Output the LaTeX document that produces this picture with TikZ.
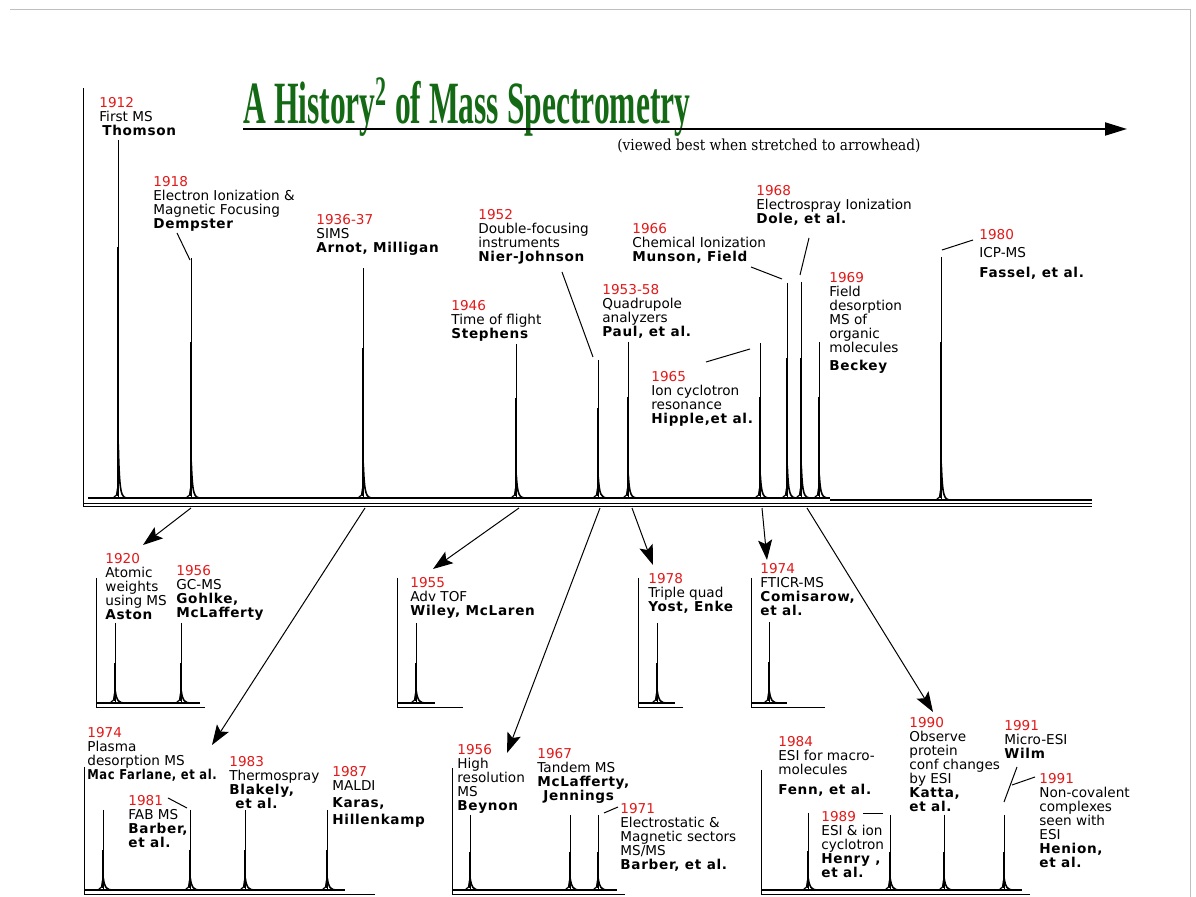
\documentclass[tikz,border=0pt]{standalone}
\usepackage{fontspec}
\usepackage{graphicx}
\usetikzlibrary{arrows.meta}
\newfontfamily\lf{DejaVu Sans}[BoldFeatures={LetterSpace=5}]
\newfontfamily\ttlfont{Liberation Serif}
\newfontfamily\subfont{DejaVu Serif}
\definecolor{yrred}{RGB}{225,25,25}
\definecolor{ttlgreen}{RGB}{20,105,20}
\newcommand\Yr[1]{\textcolor{yrred}{#1}}
% peak: x, top, base, fraction of thin part
\newcommand\Pk[4]{%
  \draw[line width=0.5pt] (#1,#2) -- (#1,#3);
  \draw[line width=1.4pt] (#1,{#2+#4*(#3-#2)}) -- (#1,{#3-2});
  \draw[line width=0.6pt] (#1-5,#3) -- (#1-1.5,{#3-3}) -- (#1-0.5,{#3-10});
  \draw[line width=0.8pt] (#1+0.3,{#3-0.15*(#3-#2)}) .. controls (#1+1.5,{#3-3}) and (#1+3,#3) .. (#1+10,#3);
}
\begin{document}
\begin{tikzpicture}[x=0.5pt,y=-0.5pt,
  lbl/.style={anchor=north west, inner sep=0pt, align=left, font=\lf\fontsize{6.8}{7}\selectfont},
  axisln/.style={line width=0.5pt},
  conn/.style={line width=0.5pt, -{Stealth[length=10pt,width=7pt,inset=2pt]}},
  leader/.style={line width=0.5pt}]
\useasboundingbox (0,0) rectangle (1196,897);
\draw[gray!50, line width=0.5pt] (10,10) -- (1190,10) -- (1190,897);

% ---------- title ----------
\node[anchor=base west, inner sep=0pt, text=ttlgreen, font=\ttlfont\bfseries\fontsize{30}{30}\selectfont] (title) at (243,124)
  {\resizebox{223.5pt}{\height}{A History\textsuperscript{2} of Mass Spectrometry}};
\coordinate (ts) at (243,129);
\coordinate (te) at (1127,129);
\draw[line width=1pt, -{Triangle[length=11pt,width=6.5pt]}] (ts) -- (te);
\node[anchor=base west, inner sep=0pt, font=\subfont\fontsize{7.6}{7.6}\selectfont] (sub) at (617,151)
  {\resizebox{151.5pt}{\height}{(viewed best when stretched to arrowhead)}};

% ---------- main spectrum ----------
\draw[axisln] (83,88) -- (83,507);
\draw[axisln] (83,503.5) -- (1092,503.5);
\draw[axisln] (83,507) -- (1092,507);
\draw[line width=0.8pt] (88,498) -- (830,498);
\draw[line width=0.8pt] (830,500) -- (1092,500);
\Pk{118}{140}{498}{0.3}
\Pk{191}{258}{498}{0.35}
\Pk{363}{268}{498}{0.35}
\Pk{516}{344}{498}{0.35}
\Pk{598}{360}{498}{0.35}
\Pk{628}{342}{498}{0.35}
\Pk{760}{343}{498}{0.35}
\Pk{787}{283}{498}{0.35}
\Pk{801}{282}{498}{0.35}
\Pk{819}{342}{498}{0.35}
\Pk{941}{257}{500}{0.35}

\node[lbl] (l1912) at (99,97) {\Yr{1912}\\First MS\\\hspace*{1.5pt}\textbf{Thomson}};
\node[lbl] (l1918) at (153,176) {\Yr{1918}\\Electron Ionization \&\\Magnetic Focusing\\\textbf{Dempster}};
\node[lbl] (l1936) at (316,214) {\Yr{1936-37}\\SIMS\\\textbf{Arnot, Milligan}};
\node[lbl] (l1946) at (451,300) {\Yr{1946}\\Time of flight\\\textbf{Stephens}};
\node[lbl] (l1952) at (478,209) {\Yr{1952}\\Double-focusing\\instruments\\\textbf{Nier-Johnson}};
\node[lbl] (l1953) at (602,284) {\Yr{1953-58}\\Quadrupole\\analyzers\\\textbf{Paul, et al.}};
\node[lbl] (l1965) at (651,371) {\Yr{1965}\\Ion cyclotron\\resonance\\\textbf{Hipple,et al.}};
\node[lbl] (l1966) at (632,223) {\Yr{1966}\\Chemical Ionization\\\textbf{Munson, Field}};
\node[lbl] (l1968) at (756,185) {\Yr{1968}\\Electrospray Ionization\\\textbf{Dole, et al.}};
\node[lbl] (l1969) at (829,272) {\Yr{1969}\\Field\\desorption\\MS of\\organic\\molecules\\[2pt]\textbf{Beckey}};
\node[lbl] (l1980) at (979,229) {\Yr{1980}\\[2pt]ICP-MS\\[3pt]\textbf{Fassel, et al.}};

\coordinate (d1) at (177,233); \coordinate (d2) at (190,260);
\coordinate (n1) at (562,272); \coordinate (n2) at (593,357);
\coordinate (h1) at (706,362); \coordinate (h2) at (750,349);
\coordinate (m1) at (751,267); \coordinate (m2) at (782,279);
\coordinate (o1) at (809,238); \coordinate (o2) at (800,275);
\coordinate (f1) at (942,250); \coordinate (f2) at (973,240);
\draw[leader] (d1) -- (d2);
\draw[leader] (n1) -- (n2);
\draw[leader] (h1) -- (h2);
\draw[leader] (m1) -- (m2);
\draw[leader] (o1) -- (o2);
\draw[leader] (f1) -- (f2);

% ---------- arrows ----------
\coordinate (a1s) at (191,508); \coordinate (a1e) at (143,545);
\coordinate (a2s) at (365,508); \coordinate (a2e) at (212,745);
\coordinate (a3s) at (519,508); \coordinate (a3e) at (433,569);
\coordinate (a4s) at (600,508); \coordinate (a4e) at (507,753);
\coordinate (a5s) at (632,508); \coordinate (a5e) at (653,565);
\coordinate (a6s) at (762,508); \coordinate (a6e) at (767,560);
\coordinate (a7s) at (807,508); \coordinate (a7e) at (933,712);
\foreach \i in {1,...,7} {\draw[conn] (a\i s) -- (a\i e);}

% ---------- middle panels ----------
\draw[axisln] (96,578) -- (96,708) -- (205,708);
\draw[line width=0.6pt] (97,703) -- (200,703);
\Pk{115}{623}{703}{0.5}
\Pk{181}{623}{703}{0.5}
\node[lbl] (l1920) at (105,553) {\Yr{1920}\\Atomic\\weights\\using MS\\\textbf{Aston}};
\node[lbl] (l1956a) at (176,565) {\Yr{1956}\\GC-MS\\\textbf{Gohlke,}\\\textbf{McLafferty}};

\draw[axisln] (397,578) -- (397,708) -- (463,708);
\draw[line width=0.6pt] (397,703) -- (435,703);
\Pk{416}{623}{703}{0.5}
\node[lbl] (l1955) at (410,577) {\Yr{1955}\\Adv TOF\\\textbf{Wiley, McLaren}};

\draw[axisln] (638,578) -- (638,708) -- (683,708);
\draw[line width=0.6pt] (638,703) -- (675,703);
\Pk{657}{623}{703}{0.5}
\node[lbl] (l1978) at (648,573) {\Yr{1978}\\Triple quad\\\textbf{Yost, Enke}};

\draw[axisln] (751,578) -- (751,708) -- (825,708);
\draw[line width=0.6pt] (751,703) -- (787,703);
\Pk{769}{622}{703}{0.5}
\node[lbl] (l1974a) at (760,563) {\Yr{1974}\\FTICR-MS\\\textbf{Comisarow,}\\\textbf{et al.}};

% ---------- bottom panels ----------
\draw[axisln] (84,767) -- (84,895) -- (375,895);
\draw[line width=0.6pt] (84,890) -- (345,890);
\Pk{103}{810}{890}{0.5}
\Pk{190}{810}{890}{0.5}
\Pk{245}{810}{890}{0.5}
\Pk{327}{810}{890}{0.5}
\node[lbl] (l1974b) at (87,727) {\Yr{1974}\\Plasma\\desorption MS\\\resizebox{65pt}{\height}{\textbf{Mac Farlane, et al.}}};
\node[lbl] (l1981) at (128,795) {\Yr{1981}\\FAB MS\\\textbf{Barber,}\\\textbf{et al.}};
\node[lbl] (l1983) at (229,756) {\Yr{1983}\\Thermospray\\\textbf{Blakely,}\\\hspace*{3pt}\textbf{et al.}};
\node[lbl] (l1987) at (332,766) {\Yr{1987}\\MALDI\\[1.5pt]\textbf{Karas,}\\[1.5pt]\textbf{Hillenkamp}};
\coordinate (b1) at (168,798); \coordinate (b2) at (187,808);
\draw[leader] (b1) -- (b2);

\draw[axisln] (452,768) -- (452,895) -- (625,895);
\draw[line width=0.6pt] (452,890) -- (617,890);
\Pk{470}{815}{890}{0.5}
\Pk{570}{815}{890}{0.5}
\Pk{598}{815}{890}{0.5}
\node[lbl] (l1956b) at (457,744) {\Yr{1956}\\High\\resolution\\MS\\\textbf{Beynon}};
\node[lbl] (l1967) at (537,748) {\Yr{1967}\\Tandem MS\\\textbf{McLafferty,}\\\hspace*{3pt}\textbf{Jennings}};
\node[lbl] (l1971) at (620,803) {\Yr{1971}\\Electrostatic \&\\Magnetic sectors\\MS/MS\\\textbf{Barber, et al.}};
\coordinate (e1) at (604,813); \coordinate (e2) at (618,807);
\draw[leader] (e1) -- (e2);

\draw[axisln] (761,770) -- (761,895) -- (1030,895);
\draw[line width=0.6pt] (761,890) -- (1022,890);
\Pk{808}{813}{890}{0.5}
\Pk{890}{815}{890}{0.5}
\Pk{944}{815}{890}{0.5}
\Pk{1004}{815}{890}{0.5}
\node[lbl] (l1984) at (778,736) {\Yr{1984}\\ESI for macro-\\molecules\\[3pt]\textbf{Fenn, et al.}};
\node[lbl] (l1989) at (821,811) {\Yr{1989}\\ESI \& ion\\cyclotron\\\textbf{Henry ,}\\\textbf{et al.}};
\node[lbl] (l1990) at (909,717) {\Yr{1990}\\Observe\\protein\\conf changes\\by ESI\\\textbf{Katta,}\\\textbf{et al.}};
\node[lbl] (l1991a) at (1004,720) {\Yr{1991}\\Micro-ESI\\\textbf{Wilm}};
\node[lbl] (l1991b) at (1039,773) {\Yr{1991}\\Non-covalent\\complexes\\seen with\\ESI\\\textbf{Henion,}\\\textbf{et al.}};
\coordinate (g1) at (863,814); \coordinate (g2) at (883,814);
\coordinate (w1) at (1017,767); \coordinate (w2) at (1004,802);
\coordinate (v1) at (1035,777); \coordinate (v2) at (1012,785);
\draw[leader] (g1) -- (g2);
\draw[leader] (w1) -- (w2);
\draw[leader] (v1) -- (v2);
\end{tikzpicture}
\end{document}
